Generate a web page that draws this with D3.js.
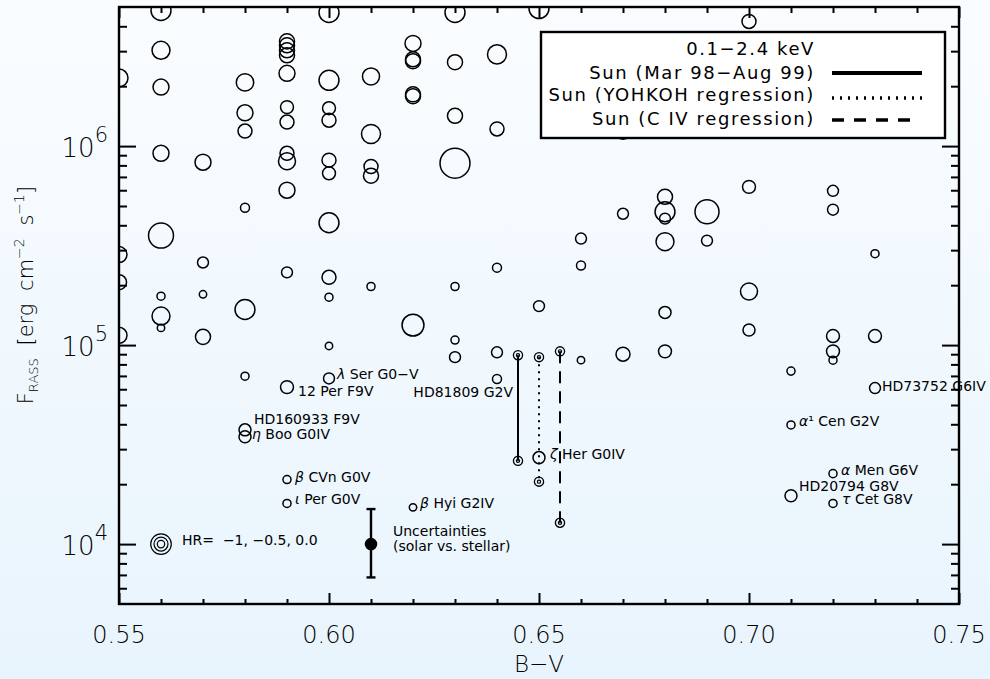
<!DOCTYPE html>
<html>
<head>
<meta charset="utf-8">
<script src="https://d3js.org/d3.v7.min.js"></script>
<style>
  body { margin: 0; }
  svg { display: block; font-family: "DejaVu Sans", sans-serif; }
</style>
</head>
<body>
<div id="wrapper"></div>
<script>

// 1. Data

// [B-V, F_RASS, hardness ratio]
const stars = [
  [0.55, 2.2e6, -0.2], [0.55, 2.85e5, -0.35], [0.55, 2.07e5, -0.42], [0.55, 1.12e5, -0.35],
  [0.56, 4.8e6, -0.05], [0.56, 3.03e6, -0.2], [0.56, 1.98e6, -0.35], [0.56, 9.2e5, -0.35],
  [0.56, 3.55e5, 0.33], [0.56, 1.76e5, -0.95], [0.56, 1.40e5, -0.2], [0.56, 1.22e5, -1.0],
  [0.57, 8.3e5, -0.35], [0.57, 2.6e5, -0.73], [0.57, 1.8e5, -1.0], [0.57, 1.1e5, -0.42],
  [0.58, 2.09e6, -0.24], [0.58, 1.47e6, -0.35], [0.58, 1.19e6, -0.5], [0.58, 4.9e5, -0.88],
  [0.58, 1.51e5, -0.05], [0.58, 6.98e4, -0.95],
  [0.59, 3.36e6, -0.42], [0.59, 3.21e6, -0.42], [0.59, 3.03e6, -0.42], [0.59, 2.86e6, -0.42],
  [0.59, 2.32e6, -0.35], [0.59, 1.57e6, -0.58], [0.59, 1.32e6, -0.5], [0.59, 9.2e5, -0.5],
  [0.59, 8.4e5, -0.27], [0.59, 6.0e5, -0.35], [0.59, 2.32e5, -0.73],
  [0.60, 4.69e6, -0.05], [0.60, 2.14e6, -0.05], [0.60, 1.55e6, -0.58], [0.60, 1.35e6, -0.5],
  [0.60, 8.5e5, -0.5], [0.60, 7.3e5, -0.58], [0.60, 4.12e5, -0.05], [0.60, 2.19e5, -0.5],
  [0.60, 1.74e5, -0.95], [0.60, 9.9e4, -1.0],
  [0.61, 2.24e6, -0.27], [0.61, 1.15e6, -0.12], [0.61, 7.9e5, -0.5], [0.61, 7.1e5, -0.42],
  [0.61, 1.97e5, -0.95],
  [0.62, 3.28e6, -0.35], [0.62, 2.73e6, -0.42], [0.62, 2.67e6, -0.42], [0.62, 1.82e6, -0.42],
  [0.62, 1.78e6, -0.42], [0.62, 1.26e5, 0.1],
  [0.63, 4.69e6, -0.05], [0.63, 2.64e6, -0.42], [0.63, 1.42e6, -0.42], [0.63, 8.2e5, 0.71],
  [0.63, 1.97e5, -0.95], [0.63, 1.06e5, -0.95], [0.63, 8.7e4, -0.73],
  [0.64, 2.89e6, -0.12], [0.64, 1.22e6, -0.5], [0.64, 2.45e5, -0.88], [0.64, 9.2e4, -0.73],
  [0.64, 6.75e4, -0.88],
  [0.65, 4.91e6, -0.05], [0.65, 1.57e5, -0.73],
  [0.66, 3.43e5, -0.73], [0.66, 2.51e5, -0.88], [0.66, 8.4e4, -1.0],
  [0.67, 1.2e6, -0.2], [0.67, 4.57e5, -0.73], [0.67, 9.0e4, -0.5],
  [0.68, 5.56e5, -0.42], [0.68, 4.68e5, -0.05], [0.68, 4.32e5, -0.73], [0.68, 3.31e5, -0.2],
  [0.68, 1.46e5, -0.65], [0.68, 9.3e4, -0.58],
  [0.69, 4.68e5, 0.26], [0.69, 3.35e5, -0.73],
  [0.70, 4.23e6, -0.5], [0.70, 6.24e5, -0.58], [0.70, 1.86e5, -0.27], [0.70, 1.19e5, -0.65],
  [0.71, 7.4e4, -0.95],
  [0.72, 5.96e5, -0.73], [0.72, 4.79e5, -0.73], [0.72, 1.11e5, -0.58], [0.72, 9.3e4, -0.58],
  [0.72, 8.4e4, -0.95],
  [0.73, 2.88e5, -0.95], [0.73, 1.11e5, -0.58],
]

// [label, B-V, F_RASS, hardness ratio]
const namedStars = [
  ["λ Ser G0−V", 0.60, 6.8e4, -0.73],
  ["12 Per F9V", 0.59, 6.15e4, -0.58],
  ["HD160933 F9V", 0.58, 3.75e4, -0.65],
  ["η Boo G0IV", 0.58, 3.46e4, -0.65],
  ["β CVn G0V", 0.59, 2.11e4, -0.95],
  ["ι Per G0V", 0.59, 1.60e4, -0.95],
  ["β Hyi G2IV", 0.62, 1.53e4, -1.0],
  ["ζ Her G0IV", 0.65, 2.72e4, -0.65],
  ["HD73752 G6IV", 0.73, 6.08e4, -0.73],
  ["α¹ Cen G2V", 0.71, 3.97e4, -0.95],
  ["α Men G6V", 0.72, 2.26e4, -0.95],
  ["HD20794 G8V", 0.71, 1.75e4, -0.65],
  ["τ Cet G8V", 0.72, 1.60e4, -0.95],
]

// solar ranges: [B-V, max flux, min flux, kind]
const sunRanges = [
  [0.645, 8.9e4, 2.62e4, "solid"],
  [0.65, 8.7e4, 2.06e4, "dotted"],
  [0.655, 9.3e4, 1.28e4, "dashed"],
]
const sunLabel = ["HD81809 G2V", 0.645, 5.5e4]

// uncertainty bar: [B-V, flux, low, high]
const uncertainty = [0.61, 1.0e4, 6.8e3, 1.5e4]
const uncertaintyText = ["Uncertainties", "(solar vs. stellar)"]

// hardness ratio key
const hrKey = [-1, -0.5, 0.0]
const hrKeyAt = [0.56, 1.0e4]
const hrKeyText = "HR=  −1, −0.5, 0.0"

const legendTitle = "0.1−2.4 keV"
const legendItems = [
  ["Sun (Mar 98−Aug 99)", "solid"],
  ["Sun (YOHKOH regression)", "dotted"],
  ["Sun (C IV regression)", "dashed"],
]

const xDomain = [0.55, 0.75]
const yDomain = [5e3, 5e6]
const xMajor = [0.55, 0.60, 0.65, 0.70, 0.75]
const xMinor = d3.range(0.56, 0.75, 0.01).filter(v => Math.abs(v * 20 - Math.round(v * 20)) > 1e-6)
const xTickLabels = ["0.55", "0.60", "0.65", "0.70", "0.75"]
const yMajor = [1e4, 1e5, 1e6]
const yExponents = ["4", "5", "6"]
const yMinor = [6e3, 7e3, 8e3, 9e3, 2e4, 3e4, 4e4, 5e4, 6e4, 7e4, 8e4, 9e4,
  2e5, 3e5, 4e5, 5e5, 6e5, 7e5, 8e5, 9e5, 2e6, 3e6, 4e6]

// 2. Dimensions

const width = 990
const height = 679
const margin = {top: 7, right: 31, bottom: 75, left: 119}
const boundedWidth = width - margin.left - margin.right
const boundedHeight = height - margin.top - margin.bottom

// 3. Canvas

const svg = d3.select("#wrapper").append("svg")
  .attr("width", width)
  .attr("height", height)

const defs = svg.append("defs")
const grad = defs.append("linearGradient").attr("id", "bg")
  .attr("x1", 0).attr("y1", 0).attr("x2", 0).attr("y2", 1)
grad.append("stop").attr("offset", "0%").attr("stop-color", "#fafdff")
grad.append("stop").attr("offset", "100%").attr("stop-color", "#e8f4fd")
defs.append("clipPath").attr("id", "plot")
  .append("rect").attr("width", boundedWidth).attr("height", boundedHeight)

svg.append("rect").attr("width", width).attr("height", height).attr("fill", "url(#bg)")

const bounds = svg.append("g")
  .attr("transform", `translate(${margin.left},${margin.top})`)

// 4. Scales

const xScale = d3.scaleLinear().domain(xDomain).range([0, boundedWidth])
const yScale = d3.scaleLog().domain(yDomain).range([boundedHeight, 0])
const rScale = d3.scaleLinear().domain([-1, 0]).range([3.7, 10.3])

const dashes = {solid: null, dotted: "2,5", dashed: "12,8"}

// 5. Marks

const marks = bounds.append("g").attr("clip-path", "url(#plot)")

marks.selectAll("circle.star")
  .data(stars.concat(namedStars.map(d => d.slice(1))))
  .join("circle")
  .attr("class", "star")
  .attr("cx", d => xScale(d[0]))
  .attr("cy", d => yScale(d[1]))
  .attr("r", d => rScale(d[2]))
  .attr("fill", "none")
  .attr("stroke", "#000")
  .attr("stroke-width", 1.5)

// solar cycle ranges
marks.selectAll("line.sun")
  .data(sunRanges)
  .join("line")
  .attr("x1", d => xScale(d[0])).attr("x2", d => xScale(d[0]))
  .attr("y1", d => yScale(d[1])).attr("y2", d => yScale(d[2]))
  .attr("stroke", "#000")
  .attr("stroke-width", 2)
  .attr("stroke-dasharray", d => dashes[d[3]])

const sunEnds = sunRanges.flatMap(d => [[d[0], d[1]], [d[0], d[2]]])
const sunSym = marks.selectAll("g.sunsym")
  .data(sunEnds)
  .join("g")
  .attr("transform", d => `translate(${xScale(d[0])},${yScale(d[1])})`)
sunSym.append("circle").attr("r", 4.6).attr("fill", "none").attr("stroke", "#000").attr("stroke-width", 1.3)
sunSym.append("circle").attr("r", 1.6).attr("fill", "none").attr("stroke", "#000").attr("stroke-width", 1.2)

// uncertainty bar
const [uBV, uF, uLo, uHi] = uncertainty
const ux = xScale(uBV)
bounds.append("line")
  .attr("x1", ux).attr("x2", ux)
  .attr("y1", yScale(uLo)).attr("y2", yScale(uHi))
  .attr("stroke", "#000").attr("stroke-width", 2.4)
bounds.selectAll("line.cap")
  .data([uLo, uHi])
  .join("line")
  .attr("x1", ux - 4.5).attr("x2", ux + 4.5)
  .attr("y1", d => yScale(d)).attr("y2", d => yScale(d))
  .attr("stroke", "#000").attr("stroke-width", 2.4)
bounds.append("circle")
  .attr("cx", ux).attr("cy", yScale(uF)).attr("r", 6.3).attr("fill", "#000")
bounds.append("g").selectAll("text")
  .data(uncertaintyText)
  .join("text")
  .attr("x", ux + 22)
  .attr("y", (d, i) => yScale(uF) - 8 + i * 15)
  .attr("font-size", 14)
  .text(d => d)

// hardness ratio key
bounds.selectAll("circle.hr")
  .data(hrKey)
  .join("circle")
  .attr("cx", xScale(hrKeyAt[0]))
  .attr("cy", yScale(hrKeyAt[1]))
  .attr("r", d => rScale(d))
  .attr("fill", "none").attr("stroke", "#000").attr("stroke-width", 1.2)
bounds.append("text")
  .attr("x", xScale(hrKeyAt[0]) + 21)
  .attr("y", yScale(hrKeyAt[1]) + 1)
  .attr("font-size", 14)
  .attr("xml:space", "preserve")
  .style("white-space", "pre")
  .text(hrKeyText)

// star labels
const labelNudge = [[8, 1], [11, 9], [9, -6], [7, 2], [8, 2], [8, 1], [7, 1],
  [11, 1], [7, 3], [8, 1], [8, 1], [8, -5], [9, 1]]
const labels = bounds.append("g").selectAll("text")
  .data(namedStars)
  .join("text")
  .attr("x", (d, i) => xScale(d[1]) + labelNudge[i][0])
  .attr("y", (d, i) => yScale(d[2]) + labelNudge[i][1])
  .attr("font-size", 14)
labels.each(function (d) {
  const t = d3.select(this)
  if (/^[α-ω]/.test(d[0])) {
    t.append("tspan").attr("font-style", "italic").text(d[0][0])
    t.append("tspan").text(d[0].slice(1))
  } else {
    t.text(d[0])
  }
})

bounds.append("text")
  .attr("x", xScale(sunLabel[1]) - 5)
  .attr("y", yScale(sunLabel[2]))
  .attr("text-anchor", "end")
  .attr("font-size", 14)
  .text(sunLabel[0])

// 6. Axes

bounds.append("rect")
  .attr("width", boundedWidth).attr("height", boundedHeight)
  .attr("fill", "none").attr("stroke", "#000").attr("stroke-width", 2.4)

function tickSet(axis, values, size, transform) {
  const g = bounds.append("g")
    .attr("transform", transform)
    .call(axis.tickValues(values).tickSize(-size).tickFormat(""))
  g.select(".domain").remove()
  g.selectAll("line").attr("stroke", "#000").attr("stroke-width", 2)
}
tickSet(d3.axisLeft(yScale), yMajor, 17, "")
tickSet(d3.axisLeft(yScale), yMinor, 8, "")
tickSet(d3.axisRight(yScale), yMajor, 17, `translate(${boundedWidth},0)`)
tickSet(d3.axisRight(yScale), yMinor, 8, `translate(${boundedWidth},0)`)
tickSet(d3.axisBottom(xScale), xMajor, 11, `translate(0,${boundedHeight})`)
tickSet(d3.axisBottom(xScale), xMinor, 5, `translate(0,${boundedHeight})`)
tickSet(d3.axisTop(xScale), xMajor, 11, "")
tickSet(d3.axisTop(xScale), xMinor, 6, "")

bounds.append("g").selectAll("text")
  .data(xMajor)
  .join("text")
  .attr("x", d => xScale(d))
  .attr("y", boundedHeight + 39)
  .attr("text-anchor", "middle")
  .attr("font-size", 24)
  .attr("font-weight", 300)
  .text((d, i) => xTickLabels[i])

const yLabels = bounds.append("g").selectAll("text")
  .data(yMajor)
  .join("text")
  .attr("x", -11)
  .attr("y", d => yScale(d) + 10.5)
  .attr("text-anchor", "end")
  .attr("font-weight", 300)
yLabels.append("tspan").attr("font-size", 26).text("10")
yLabels.append("tspan").attr("font-size", 21).attr("dy", -15).text((d, i) => yExponents[i])

bounds.append("text")
  .attr("x", xScale(0.65))
  .attr("y", boundedHeight + 68)
  .attr("text-anchor", "middle")
  .attr("font-size", 23)
  .attr("font-weight", 300)
  .text("B−V")

const yTitle = svg.append("text")
  .attr("transform", "translate(33,295) rotate(-90)")
  .attr("text-anchor", "middle")
  .attr("font-size", 21)
  .attr("font-weight", 300)
  .attr("word-spacing", 6)
yTitle.append("tspan").text("F")
yTitle.append("tspan").attr("font-size", 13).attr("dy", 5).text("RASS")
yTitle.append("tspan").attr("dy", -5).text(" [erg cm")
yTitle.append("tspan").attr("font-size", 14).attr("dy", -9).text("−2")
yTitle.append("tspan").attr("dy", 9).text(" s")
yTitle.append("tspan").attr("font-size", 14).attr("dy", -9).text("−1")
yTitle.append("tspan").attr("dy", 9).text("]")

// 7. Legend

const legend = bounds.append("g").attr("transform", "translate(422,25)")
legend.append("rect")
  .attr("width", 404).attr("height", 106)
  .attr("fill", "#fff").attr("stroke", "#000").attr("stroke-width", 2.4)
legend.append("text")
  .attr("x", 274).attr("y", 23)
  .attr("text-anchor", "end")
  .attr("font-size", 18)
  .attr("letter-spacing", 1.6)
  .text(legendTitle)
const legendBase = [47, 69, 93]
const legendLineY = [41, 66, 88]
legend.selectAll("text.item")
  .data(legendItems)
  .join("text")
  .attr("class", "item")
  .attr("x", 274)
  .attr("y", (d, i) => legendBase[i])
  .attr("text-anchor", "end")
  .attr("font-size", 18)
  .attr("letter-spacing", 1.6)
  .text(d => d[0])
legend.selectAll("line")
  .data(legendItems)
  .join("line")
  .attr("x1", 291)
  .attr("x2", d => d[1] === "dashed" ? 371 : 381)
  .attr("y1", (d, i) => legendLineY[i]).attr("y2", (d, i) => legendLineY[i])
  .attr("stroke", "#000")
  .attr("stroke-width", d => d[1] === "solid" ? 4 : 3.5)
  .attr("stroke-dasharray", d => d[1] === "dotted" ? "2,6" : d[1] === "dashed" ? "12,10" : null)

</script>
</body>
</html>
